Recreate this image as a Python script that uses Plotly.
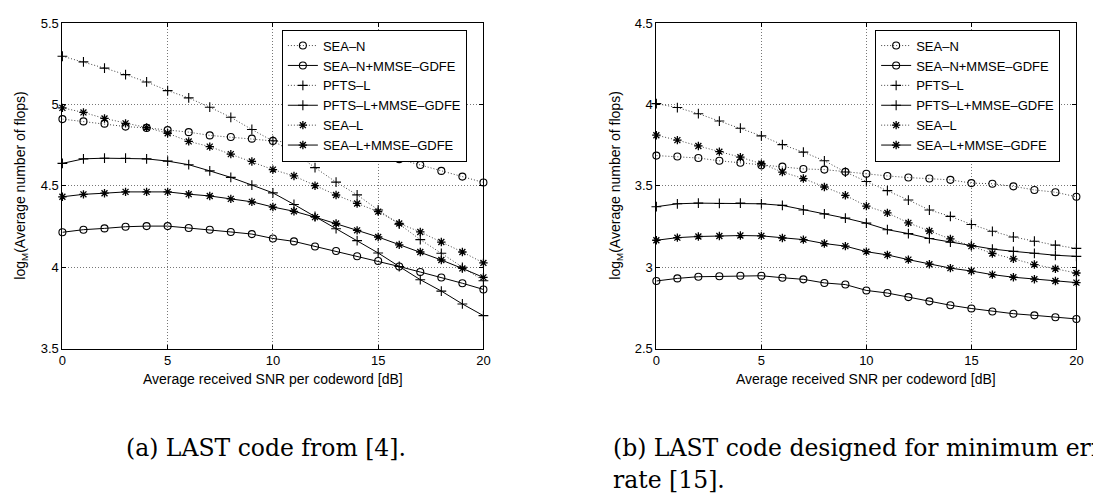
import plotly.graph_objects as go

snr = list(range(21))

series_names = ["SEA–N", "SEA–N+MMSE–GDFE", "PFTS–L", "PFTS–L+MMSE–GDFE", "SEA–L", "SEA–L+MMSE–GDFE"]

# (a) LAST code from [4]
a_sean = [4.91, 4.896, 4.882, 4.864, 4.856, 4.842, 4.830, 4.81, 4.80, 4.79, 4.776, 4.765, 4.749, 4.731, 4.717, 4.698, 4.664, 4.628, 4.592, 4.557, 4.521]
a_sean_mmse = [4.215, 4.231, 4.239, 4.249, 4.253, 4.253, 4.241, 4.231, 4.217, 4.204, 4.177, 4.159, 4.128, 4.10, 4.068, 4.039, 4.005, 3.971, 3.937, 3.902, 3.864]
a_pfts = [5.296, 5.261, 5.223, 5.183, 5.138, 5.085, 5.04, 4.983, 4.921, 4.846, 4.777, 4.705, 4.612, 4.523, 4.445, 4.352, 4.265, 4.170, 4.086, 4.0, 3.917]
a_pfts_mmse = [4.638, 4.666, 4.670, 4.670, 4.666, 4.652, 4.630, 4.592, 4.552, 4.505, 4.457, 4.386, 4.312, 4.237, 4.164, 4.088, 4.005, 3.924, 3.854, 3.775, 3.703]
a_seal = [4.979, 4.951, 4.914, 4.884, 4.858, 4.823, 4.773, 4.741, 4.695, 4.650, 4.600, 4.561, 4.501, 4.444, 4.392, 4.342, 4.269, 4.217, 4.155, 4.094, 4.027]
a_seal_mmse = [4.433, 4.448, 4.455, 4.463, 4.463, 4.463, 4.449, 4.438, 4.42, 4.402, 4.370, 4.344, 4.308, 4.269, 4.227, 4.186, 4.138, 4.094, 4.045, 3.993, 3.938]

# (b) LAST code designed for minimum error rate [15]
b_sean = [3.686, 3.680, 3.671, 3.654, 3.642, 3.626, 3.618, 3.604, 3.600, 3.586, 3.574, 3.561, 3.551, 3.545, 3.537, 3.517, 3.513, 3.497, 3.475, 3.461, 3.433]
b_sean_mmse = [2.916, 2.932, 2.942, 2.945, 2.948, 2.948, 2.936, 2.926, 2.904, 2.894, 2.858, 2.842, 2.817, 2.791, 2.767, 2.747, 2.729, 2.715, 2.705, 2.693, 2.683]
b_pfts = [4.005, 3.981, 3.943, 3.898, 3.854, 3.807, 3.753, 3.707, 3.654, 3.585, 3.527, 3.471, 3.413, 3.352, 3.313, 3.263, 3.221, 3.186, 3.160, 3.136, 3.116]
b_pfts_mmse = [3.372, 3.390, 3.394, 3.392, 3.394, 3.390, 3.380, 3.352, 3.328, 3.302, 3.271, 3.231, 3.207, 3.177, 3.154, 3.134, 3.112, 3.098, 3.086, 3.074, 3.067]
b_seal = [3.811, 3.781, 3.745, 3.710, 3.676, 3.636, 3.585, 3.545, 3.493, 3.442, 3.376, 3.334, 3.273, 3.223, 3.174, 3.130, 3.085, 3.052, 3.017, 2.991, 2.965]
b_seal_mmse = [3.166, 3.182, 3.189, 3.192, 3.195, 3.193, 3.180, 3.170, 3.146, 3.130, 3.096, 3.076, 3.047, 3.019, 2.995, 2.977, 2.955, 2.939, 2.927, 2.916, 2.906]

x_ticks = [0, 5, 10, 15, 20]
a_yticks = [3.5, 4, 4.5, 5, 5.5]
b_yticks = [2.5, 3, 3.5, 4, 4.5]

x_title = "Average received SNR per codeword [dB]"
y_title = "log<sub>M</sub>(Average number of flops)"
caption_a = "(a) LAST code from [4]."
caption_b1 = "(b) LAST code designed for minimum error"
caption_b2 = "rate [15]."

DOT = "1px,2px"
styles = [
    dict(dash=DOT, symbol="circle-open", size=7, lw=1.1),
    dict(dash="solid", symbol="circle-open", size=7, lw=1.1),
    dict(dash=DOT, symbol="cross-thin-open", size=7, lw=1.1),
    dict(dash="solid", symbol="cross-thin-open", size=7, lw=1.1),
    dict(dash=DOT, symbol="asterisk-open", size=7, lw=1.3),
    dict(dash="solid", symbol="asterisk-open", size=7, lw=1.3),
]

fig = go.Figure()

def add_panel(data, xa, ya, legend):
    for name, ys, st in zip(series_names, data, styles):
        dotted = st["dash"] != "solid"
        fig.add_trace(go.Scatter(
            x=snr, y=ys, name=name, mode="lines+markers",
            xaxis=xa, yaxis=ya, legend=legend, cliponaxis=False,
            line=dict(color="#444444" if dotted else "black", width=1, dash=st["dash"]),
            marker=dict(symbol=st["symbol"], size=st["size"], color="black",
                        line=dict(color="black", width=st["lw"])),
        ))

add_panel([a_sean, a_sean_mmse, a_pfts, a_pfts_mmse, a_seal, a_seal_mmse], "x", "y", "legend")
add_panel([b_sean, b_sean_mmse, b_pfts, b_pfts_mmse, b_seal, b_seal_mmse], "x2", "y2", "legend2")

W, H = 1093, 500
ytop, ybot = 16.5, 352.3
yd = [(H - ybot) / H, (H - ytop) / H]

SANS = "Liberation Sans, Arial, sans-serif"
axis_common = dict(
    showline=True, linecolor="black", linewidth=1, mirror="allticks",
    ticks="inside", ticklen=4, tickcolor="black", tickwidth=1,
    showgrid=True, gridcolor="#777777", griddash=DOT, gridwidth=1,
    zeroline=False, tickfont=dict(family=SANS, size=13, color="black"),
)

legend_common = dict(
    bordercolor="black", borderwidth=1, bgcolor="white",
    font=dict(family=SANS, size=13, color="black"),
    xanchor="left", yanchor="top", itemwidth=30, tracegroupgap=0,
)

fig.update_layout(
    width=W, height=H, margin=dict(l=0, r=0, t=0, b=0),
    paper_bgcolor="white", plot_bgcolor="white",
    xaxis=dict(domain=[59 / W, 484.3 / W], range=[0, 20], tickvals=x_ticks, anchor="y", **axis_common),
    yaxis=dict(domain=yd, range=[3.5, 5.5], tickvals=a_yticks, anchor="x", **axis_common),
    xaxis2=dict(domain=[659 / W, 1083.3 / W], range=[0, 20], tickvals=x_ticks, anchor="y2", **axis_common),
    yaxis2=dict(domain=yd, range=[2.5, 4.5], tickvals=b_yticks, anchor="x2", **axis_common),
    legend=dict(x=280.7 / W, y=(H - 23.3) / H, **legend_common),
    legend2=dict(x=880 / W, y=(H - 23.3) / H, **legend_common),
    showlegend=True,
)

lab_font = dict(family=SANS, size=14, color="black")
cap_font = dict(family="DejaVu Serif", size=23.5, color="black")
annots = [
    dict(text=x_title, x=(59 + 484.3) / 2 / W, y=(H - 383) / H, font=lab_font),
    dict(text=x_title, x=(659 + 1083.3) / 2 / W, y=(H - 383) / H, font=lab_font),
    dict(text=y_title, x=17 / W, y=(H - (ytop + ybot) / 2) / H, textangle=-90, font=lab_font),
    dict(text=y_title, x=618 / W, y=(H - (ytop + ybot) / 2) / H, textangle=-90, font=lab_font),
    dict(text=caption_a, x=265 / W, y=(H - 455) / H, font=cap_font),
    dict(text=caption_b1, x=613 / W, y=(H - 455) / H, font=cap_font, xanchor="left"),
    dict(text=caption_b2, x=613 / W, y=(H - 488) / H, font=cap_font, xanchor="left"),
]
for a in annots:
    a.setdefault("xanchor", "center")
    fig.add_annotation(xref="paper", yref="paper", yanchor="middle", showarrow=False, **a)

fig.write_html("out.html")
